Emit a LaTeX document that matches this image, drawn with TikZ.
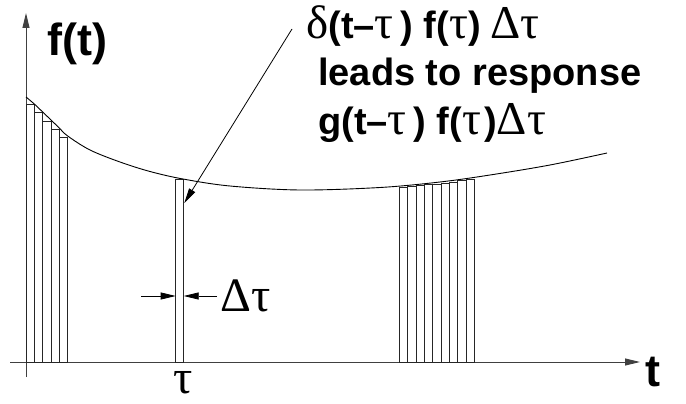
\documentclass[tikz,border=0pt]{standalone}
\usepackage{fontspec}
\setmainfont{Liberation Sans}
\newfontfamily\gk{Liberation Serif}
\usetikzlibrary{arrows.meta}
\tikzset{
  ln/.style={line width=0.9pt, black},
  axis/.style={line width=1pt, black!75, -{Triangle[length=15pt,width=7pt]}},
  tip/.style={line width=0.8pt, -{Triangle[length=15pt,width=7pt]}},
  bar/.style={line width=0.9pt, draw=black!85, fill=white},
  lbl/.style={inner sep=0pt, font=\fontsize{38}{44}\selectfont\bfseries},
  axlbl/.style={inner sep=0pt, font=\fontsize{45}{46}\selectfont\bfseries},
  glbl/.style={inner sep=0pt, font=\fontsize{48}{48}\selectfont\gk},
}
\newcommand{\G}[1]{{\fontsize{47}{44}\selectfont\gk\mdseries #1}}
\begin{document}
\begin{tikzpicture}[x=1pt,y=-1pt]
\useasboundingbox (0,0) rectangle (686,404);
% axes
\coordinate (xs) at (10,362);
\coordinate (xe) at (640,362);
\coordinate (ys) at (26,377);
\coordinate (ye) at (26,13);
\draw[axis] (xs) -- (xe);
\draw[axis] (ys) -- (ye);
% left bars
\foreach \a/\b/\t in {26/34.3/104.3, 34.3/42.7/112.7, 42.7/51/121, 51/59.3/129.3, 59.3/67.7/137.3}
  \draw[bar] (\a,362) rectangle (\b,\t);
% right bars
\foreach \a/\t in {399.3/187.3, 407.7/186.7, 416/185.7, 424.3/184.7, 432.7/184, 441/183, 449.3/182, 457.7/180.7, 466/179}
  \draw[bar] (\a,362) rectangle ({\a+8.33},\t);
% middle bar
\draw[bar] (175.7,362) rectangle (183.7,179.3);
% curve
\draw[ln] plot[smooth, tension=0.55] coordinates {(26,97) (34.3,104) (42.7,112) (51,120) (59.3,128) (67.7,136) (90,150) (120,162) (150,171.5) (183,179) (230,186) (300,190) (380,187.5) (440,182) (490,175) (550,165) (607,153)};
% labels
\node[axlbl, anchor=base west] (ft) at (47,56) {f(t)};
\node[axlbl, anchor=base west] (tl) at (645,386) {t};
\node[glbl, anchor=base] (tau) at (183,393) {τ};
\node[glbl] (dtau) at (246,296) {Δτ};
\node[lbl, anchor=base west] (l1) at (306,39) {\G{δ}(t–\G{τ}\hspace{7pt}) f(\G{τ})\hspace{10pt}\G{Δτ}};
\node[lbl, anchor=base west] (l2) at (318,86) {leads to response};
\node[lbl, anchor=base west] (l3) at (318,134) {g(t–\G{τ}\hspace{7pt}) f(\G{τ}\hspace{3pt})\G{Δτ}};
% annotation arrow
\coordinate (as) at (292,29);
\coordinate (ae) at (184.3,203);
\draw[tip] (as) -- (ae);
% dimension arrows
\coordinate (d1) at (141,296);
\coordinate (d2) at (175.7,296);
\coordinate (d3) at (217,296);
\coordinate (d4) at (183.7,296);
\draw[tip] (d1) -- (d2);
\draw[tip] (d3) -- (d4);
\end{tikzpicture}
\end{document}
